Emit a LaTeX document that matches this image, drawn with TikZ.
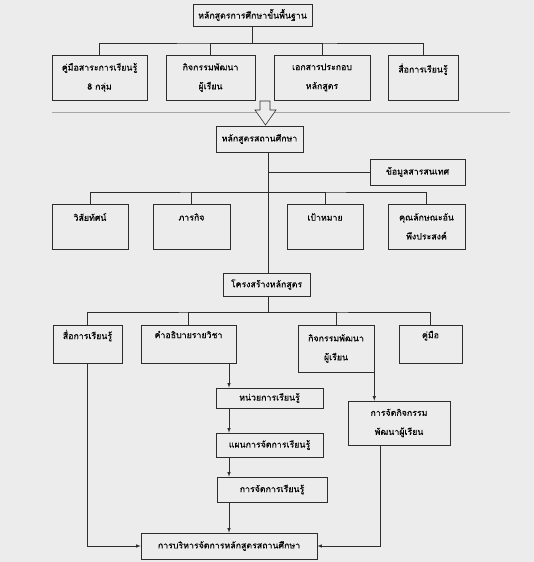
\documentclass[tikz,border=0pt]{standalone}
\usepackage{fontspec}
\newfontfamily\thaifont[Script=Thai, FakeBold=0.2]{Loma}
\definecolor{bgc}{RGB}{236,236,236}
\definecolor{linec}{RGB}{45,45,45}
\begin{document}
\begin{tikzpicture}[x=1pt, y=-1pt, >=latex,
    box/.style={draw=linec, line width=0.6pt, align=center, inner sep=0pt,
        font=\thaifont\fontsize{8.8}{19}\selectfont},
    wire/.style={draw=linec, line width=0.6pt}]
    % Nen
    \fill[bgc] (0,0) rectangle (534,562);
    \useasboundingbox (0,0) rectangle (534,562);

    % Tang 1
    \node[box, minimum width=119pt, minimum height=22pt] (base) at (252.5,15) {หลักสูตรการศึกษาขั้นพื้นฐาน};
    \node[box, minimum width=95pt, minimum height=45pt] (guide) at (99.5,77.5) {คู่มือสาระการเรียนรู้\\8 กลุ่ม};
    \node[box, minimum width=89pt, minimum height=45pt] (activ) at (210.5,77.5) {กิจกรรมพัฒนา\\ผู้เรียน};
    \node[box, minimum width=96pt, minimum height=45pt] (docs) at (322,77.5) {เอกสารประกอบ\\หลักสูตร};
    \node[box, minimum width=70pt, minimum height=45pt] (media) at (423,77.5) {สื่อการเรียนรู้\\\mbox{}};
    \draw[wire] (base.south) -- (base.south |- 0,43) coordinate (j1);
    \draw[wire] (guide.north) |- (j1) -| (media.north);
    \draw[wire] (activ.north) |- (j1);
    \draw[wire] (docs.north) |- (j1);

    % Duong phan cach va mui ten rong
    \draw[gray!70, line width=0.6pt] (52,112) -- (510,112);
    \filldraw[fill=bgc, draw=linec, line width=0.6pt]
        (260,101) -- (270,101) -- (270,110) -- (276,110) -- (265.5,125)
        -- (255,110) -- (260,110) -- cycle;

    % Tang 2
    \node[box, minimum width=87pt, minimum height=26pt] (school) at (259.5,139) {หลักสูตรสถานศึกษา};
    \node[box, minimum width=95pt, minimum height=26pt] (info) at (417.5,172) {ข้อมูลสารสนเทศ};
    \node[box, minimum width=76pt, minimum height=45pt] (vision) at (90,226.5) {วิสัยทัศน์\\\mbox{}};
    \node[box, minimum width=77pt, minimum height=45pt] (mission) at (191.5,226.5) {ภารกิจ\\\mbox{}};
    \node[box, minimum width=76pt, minimum height=45pt] (goal) at (325,226.5) {เป้าหมาย\\\mbox{}};
    \node[box, minimum width=77pt, minimum height=45pt] (trait) at (426.5,226.5) {คุณลักษณะอัน\\พึงประสงค์};
    \node[box, minimum width=87pt, minimum height=23pt] (struct) at (266.5,284.5) {โครงสร้างหลักสูตร};
    \coordinate (spine) at (268,0);
    \draw[wire] (school.south -| spine) -- (struct.north -| spine);
    \draw[wire] (info.west -| spine) -- (info.west);
    \coordinate (j2) at (268,192);
    \draw[wire] (vision.north) |- (j2) -| (trait.north);
    \draw[wire] (mission.north) |- (j2);
    \draw[wire] (goal.north) |- (j2);

    % Tang 3
    \node[box, minimum width=69pt, minimum height=38pt] (media2) at (87.5,344) {สื่อการเรียนรู้\\\mbox{}};
    \node[box, minimum width=95pt, minimum height=38pt] (desc) at (188.5,344) {คำอธิบายรายวิชา\\\mbox{}};
    \node[box, minimum width=76pt, minimum height=47pt] (activ2) at (336,348.5) {กิจกรรมพัฒนา\\ผู้เรียน};
    \node[box, minimum width=63pt, minimum height=38pt] (manual) at (430.5,344) {คู่มือ\\\mbox{}};
    \coordinate (j3) at (268,312);
    \draw[wire] (struct.south -| spine) -- (j3);
    \draw[wire] (media2.north) |- (j3) -| (manual.north);
    \draw[wire] (desc.north) |- (j3);
    \draw[wire] (activ2.north) |- (j3);

    % Tang 4
    \node[box, minimum width=107pt, minimum height=20pt] (unit) at (269.5,398) {หน่วยการเรียนรู้};
    \node[box, minimum width=107pt, minimum height=24pt] (plan) at (269.5,445) {แผนการจัดการเรียนรู้};
    \node[box, minimum width=110pt, minimum height=25pt] (teach) at (272,489.5) {การจัดการเรียนรู้};
    \node[box, minimum width=102pt, minimum height=44pt] (act) at (399,423) {การจัดกิจกรรม\\พัฒนาผู้เรียน};
    \node[box, minimum width=176pt, minimum height=26pt] (admin) at (229,546) {การบริหารจัดการหลักสูตรสถานศึกษา};
    \draw[wire, ->] (desc.south -| admin) -- (unit.north -| admin);
    \draw[wire, ->] (unit.south -| admin) -- (plan.north -| admin);
    \draw[wire, ->] (plan.south -| admin) -- (teach.north -| admin);
    \draw[wire, ->] (teach.south -| admin) -- (admin.north);
    \draw[wire, ->] (activ2.south east) -- (activ2.south east |- act.north);
    \draw[wire, ->] (media2.south) |- (admin.west);
    \draw[wire, ->] ([xshift=-19pt]act.south) |- (admin.east);
\end{tikzpicture}
\end{document}
